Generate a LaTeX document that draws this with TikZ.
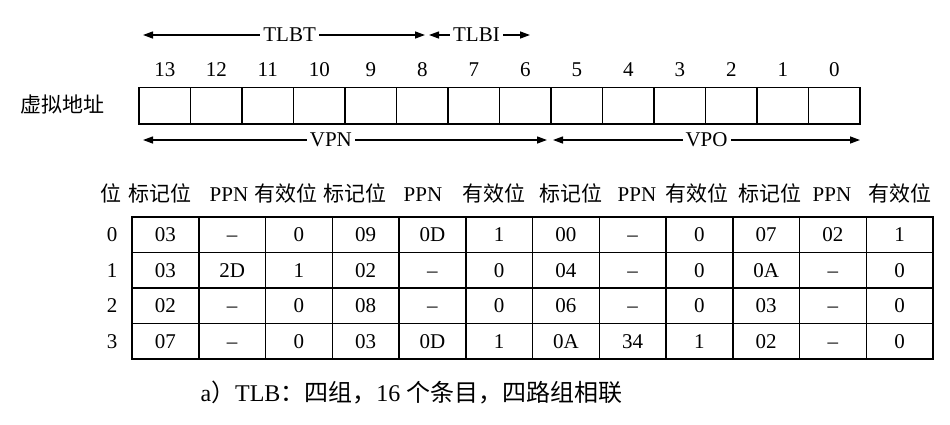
\documentclass[tikz,border=0pt]{standalone}
\usepackage{fontspec}
\setmainfont{Liberation Serif}
\newfontfamily\cjk{Noto Sans CJK SC}
\usetikzlibrary{arrows.meta,chains,positioning}

\begin{document}
\begin{tikzpicture}
      [
        x = 1pt, y = -1pt,
        >={Triangle[length=10pt, width=7pt]},
        node distance = 0pt,
        every node/.style={font=\fontsize{21}{25}\selectfont},
        BitBlock/.style={draw, line width=1.3pt, minimum width=51.5pt, minimum height=36.5pt, outer sep=0pt, inner sep=0pt},
        TlbBlock/.style={draw, line width=1.5pt, minimum width=66.75pt, minimum height=35.5pt, outer sep=0pt, inner sep=0pt, text height=14pt, text depth=0pt},
        HeadLabel/.style={anchor=base},
        Span/.style={<->, line width=1.3pt},
        SpanLabel/.style={fill=white, inner sep=3pt},
      ]

      \useasboundingbox (0,0) rectangle (950,424);

      \node (va) at (62,105) {\cjk 虚拟地址};

      % bit 13 on the left
      \foreach \b [count=\i from 0] in {13,12,...,0} {
        \node [BitBlock] (b\b) at ({164.75+51.5*\i},105.75) {};
        \node (n\b) at ({164.75+51.5*\i},70) {\b};
      }

      \coordinate (tlbtL) at (143,35);
      \coordinate (tlbtR) at (425,35);
      \coordinate (tlbiL) at (429,35);
      \coordinate (tlbiR) at (530,35);
      \coordinate (vpnL) at (143,140);
      \coordinate (vpnR) at (547,140);
      \coordinate (vpoL) at (553,140);
      \coordinate (vpoR) at (860,140);

      \draw [Span] (tlbtL) -- node [SpanLabel, pos=0.52] (tlbt) {TLBT} (tlbtR);
      \draw [Span] (tlbiL) -- node [SpanLabel, pos=0.47] (tlbi) {TLBI} (tlbiR);
      \draw [Span] (vpnL) -- node [SpanLabel, pos=0.465] (vpn) {VPN} (vpnR);
      \draw [Span] (vpoL) -- node [SpanLabel] (vpo) {VPO} (vpoR);

      % header line
      \node [HeadLabel] (hset) at (111,201) {\cjk 位};
      \foreach \x/\h [count=\c from 0] in {160/{\cjk 标记位}, 229/PPN, 286/{\cjk 有效位},
                                          355/{\cjk 标记位}, 423/PPN, 494/{\cjk 有效位},
                                          571/{\cjk 标记位}, 637/PPN, 697/{\cjk 有效位},
                                          770/{\cjk 标记位}, 832/PPN, 900/{\cjk 有效位}}
        \node [HeadLabel] (h\c) at (\x,201) {\h};

      % four sets, four ways
      \foreach \r/\vals in {0/{03,--,0,09,0D,1,00,--,0,07,02,1},
                            1/{03,2D,1,02,--,0,04,--,0,0A,--,0},
                            2/{02,--,0,08,--,0,06,--,0,03,--,0},
                            3/{07,--,0,03,0D,1,0A,34,1,02,--,0}} {
        \node (s\r) at (112,{234.75+35.5*\r}) {\r};
        \foreach \v [count=\c from 0] in \vals
          \node [TlbBlock] (t\r-\c) at ({165.375+66.75*\c},{234.75+35.5*\r}) {\v};
      }

      \node (cap) at (411.5,393) {\fontsize{24}{28}\selectfont a{\cjk ）}TLB{\cjk ：四组，}16 {\cjk 个条目，四路组相联}};
\end{tikzpicture}
\end{document}
